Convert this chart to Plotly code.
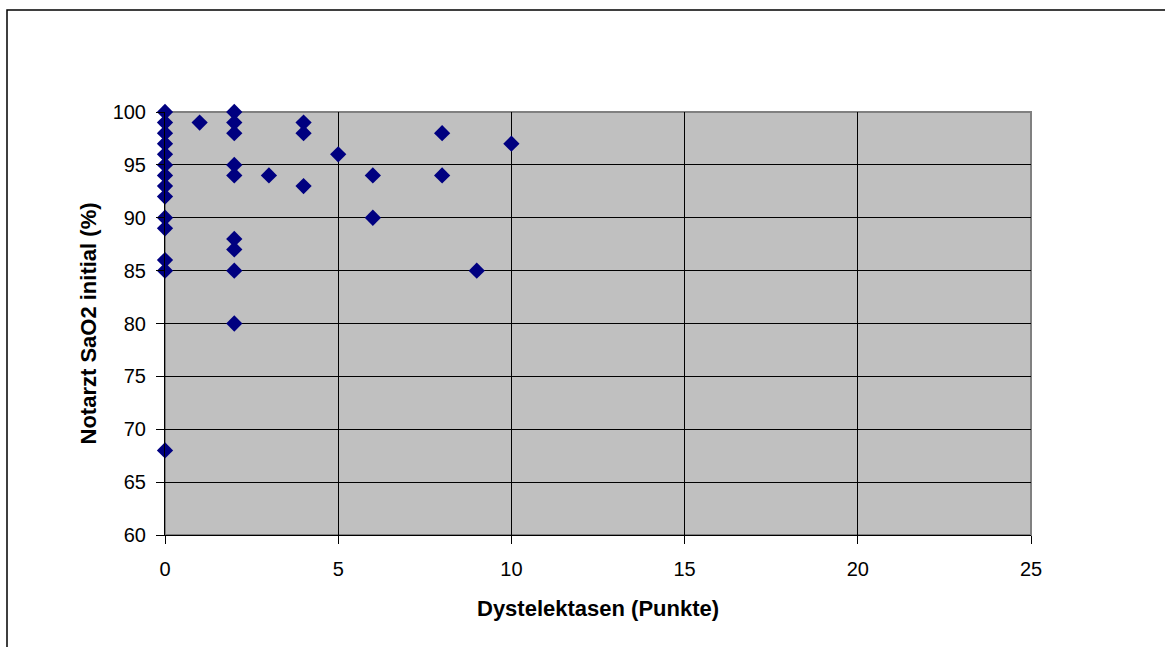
import plotly.graph_objects as go

# Dystelektasen score (points) vs. initial SaO2 measured by the emergency physician (%)
dystelektasen = [0, 0, 0, 0, 0, 0, 0, 0, 0, 0, 0, 0, 0, 0,
                 1,
                 2, 2, 2, 2, 2, 2, 2, 2, 2,
                 3,
                 4, 4, 4,
                 5,
                 6, 6,
                 8, 8,
                 9,
                 10]
sao2_initial = [100, 99, 98, 97, 96, 95, 94, 93, 92, 90, 89, 86, 85, 68,
                99,
                100, 99, 98, 95, 94, 88, 87, 85, 80,
                94,
                99, 98, 93,
                96,
                94, 90,
                98, 94,
                85,
                97]

x_ticks = [0, 5, 10, 15, 20, 25]
y_ticks = [60, 65, 70, 75, 80, 85, 90, 95, 100]

FONT = "Liberation Sans, Arial, sans-serif"
TICK_SIZE = 20
TITLE_SIZE = 22

fig = go.Figure(
    go.Scatter(
        x=dystelektasen,
        y=sao2_initial,
        mode="markers",
        marker=dict(symbol="diamond", size=12.5, color="#000080", line=dict(width=0)),
        cliponaxis=False,
        showlegend=False,
    )
)

W, H = 1165, 647
L, R, T, B = 165, 134, 112, 112
pw, ph = W - L - R, H - T - B


def px_x(p):
    return (p - L) / pw


def px_y(p):
    return (H - B - p) / ph


axis_style = dict(
    showgrid=True,
    gridcolor="black",
    gridwidth=1,
    zeroline=False,
    showline=True,
    linecolor="black",
    linewidth=1,
    ticks="outside",
    ticklen=8,
    tickcolor="black",
    tickfont=dict(size=TICK_SIZE),
    fixedrange=True,
)

fig.update_layout(
    width=W,
    height=H,
    margin=dict(l=L, r=R, t=T, b=B, autoexpand=False),
    paper_bgcolor="white",
    plot_bgcolor="#C0C0C0",
    font=dict(family=FONT, size=TICK_SIZE, color="black"),
    xaxis=dict(range=[0, 25], tickvals=x_ticks, ticklabelstandoff=8, **axis_style),
    yaxis=dict(range=[60, 100], tickvals=y_ticks, ticklabelstandoff=6, **axis_style),
    shapes=[
        # gray frame around the plotting area
        dict(type="rect", xref="paper", yref="paper", x0=0, x1=1, y0=0, y1=1,
             line=dict(color="#808080", width=2), layer="below"),
        # outer chart frame
        dict(type="rect", xref="paper", yref="paper",
             x0=px_x(7), x1=px_x(W + 20), y0=px_y(H + 20), y1=px_y(10),
             line=dict(color="black", width=1.5), layer="above"),
    ],
    annotations=[
        dict(text="<b>Dystelektasen (Punkte)</b>", xref="paper", yref="paper",
             x=0.5, y=px_y(608), xanchor="center", yanchor="middle",
             showarrow=False, font=dict(size=TITLE_SIZE, family=FONT)),
        dict(text="<b>Notarzt SaO2 initial (%)</b>", xref="paper", yref="paper",
             x=px_x(88), y=0.5, xanchor="center", yanchor="middle",
             textangle=-90, showarrow=False, font=dict(size=TITLE_SIZE, family=FONT)),
    ],
)

fig.write_html("out.html", config={"displayModeBar": False})
